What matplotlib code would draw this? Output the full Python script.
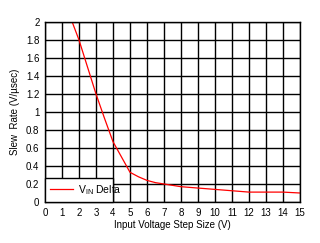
import matplotlib
matplotlib.use("Agg")
import matplotlib.pyplot as plt

x_vals = [1.6, 2, 2.5, 3, 3.5, 4, 4.5, 5, 5.5, 6, 6.5, 7, 8, 9, 10, 11, 12, 13, 14, 15]
slew = [2.0, 1.8, 1.5, 1.2, 0.93, 0.67, 0.5, 0.33, 0.28, 0.24, 0.215, 0.2, 0.17, 0.155, 0.14, 0.125, 0.11, 0.11, 0.11, 0.1]
x_ticks = list(range(0, 16))
y_ticks = [0, 0.2, 0.4, 0.6, 0.8, 1, 1.2, 1.4, 1.6, 1.8, 2]
y_labels = ["0", "0.2", "0.4", "0.6", "0.8", "1", "1.2", "1.4", "1.6", "1.8", "2"]

plt.rcParams['font.family'] = ['Liberation Sans', 'DejaVu Sans']
fig = plt.figure(figsize=(3.2, 2.43), dpi=100)
ax = fig.add_axes([45/320, 41/243, 255/320, 180/243])
ax.plot(x_vals, slew, color='red', lw=0.9, label='V$_{\\mathregular{IN}}$ Delta')
ax.set_xlim(0, 15)
ax.set_ylim(0, 2)
ax.set_xticks(x_ticks)
ax.set_yticks(y_ticks)
ax.set_yticklabels(y_labels)
ax.grid(True, color='black', lw=1)
ax.tick_params(length=0, labelsize=7, pad=4)
for s in ax.spines.values():
    s.set_linewidth(1)
ax.set_xlabel('Input Voltage Step Size (V)', fontsize=7, labelpad=2)
ax.set_ylabel('Slew  Rate (V/\u00b5sec)', fontsize=7, labelpad=4)
leg = ax.legend(loc='lower left', bbox_to_anchor=(0, 0, 4/15, 0.27/2), mode='expand',
                borderaxespad=0, fontsize=7.5, fancybox=False, framealpha=1,
                edgecolor='black', handlelength=2.2, handletextpad=0.5, borderpad=0.5)
leg.get_frame().set_linewidth(1)
fig.savefig('out.png', dpi=100)
